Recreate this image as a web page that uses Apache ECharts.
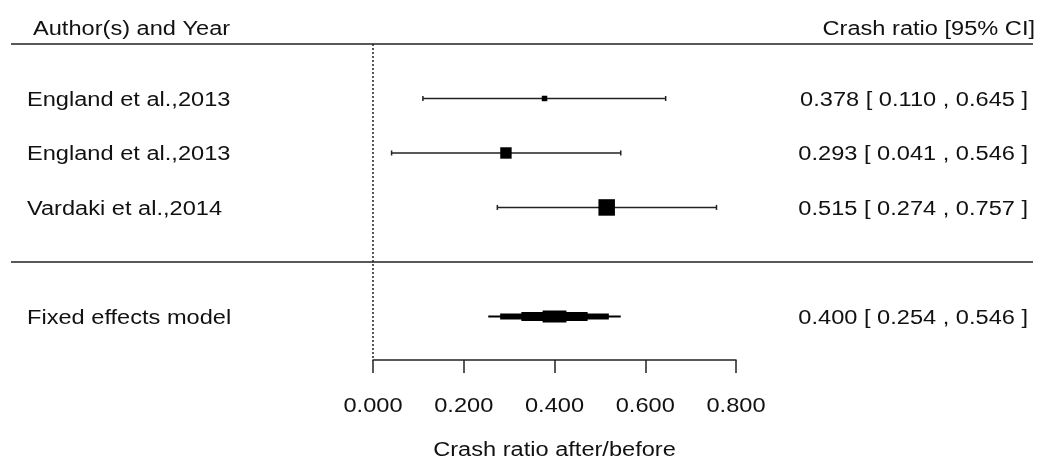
<!DOCTYPE html>
<html>
<head>
<meta charset="utf-8">
<script src="https://cdn.jsdelivr.net/npm/echarts@6/dist/echarts.min.js"></script>
<style>
  html, body { margin: 0; padding: 0; background: #fff; }
  #forest { width: 1043px; height: 461px; }
</style>
</head>
<body>
<div id="forest"></div>
<script>
// study rows
var studies = ['England et al.,2013', 'England et al.,2013', 'Vardaki et al.,2014'];
var estimates = [0.378, 0.293, 0.515];
var lowers = [0.110, 0.041, 0.274];
var uppers = [0.645, 0.546, 0.757];
var weights = [29.9, 33.5, 36.6]; // inverse variance weights, %

// pooled estimate
var modelName = 'Fixed effects model';
var modelEst = 0.400;
var modelLower = 0.254;
var modelUpper = 0.546;

var tickValues = [0, 0.2, 0.4, 0.6, 0.8];
var headerLeft = 'Author(s) and Year';
var headerRight = 'Crash ratio [95% CI]';
var axisTitle = 'Crash ratio after/before';

var FONT = '20px "Liberation Sans", Arial, sans-serif';
var INK = '#111';
var LINE = '#222';
var SX = 1.18; // the picture is a bit wide

function fmt(v) { return v.toFixed(3); }
function ciText(e, l, u) { return fmt(e) + ' [ ' + fmt(l) + ' , ' + fmt(u) + ' ]'; }
function txt(x, y, s, align) {
    return {
        type: 'text', x: x, y: y, scaleX: SX,
        style: { text: s, font: FONT, fill: INK, align: align || 'left', verticalAlign: 'middle' }
    };
}
function seg(x1, y1, x2, y2, w) {
    return { type: 'line', shape: { x1: x1, y1: y1, x2: x2, y2: y2 }, style: { stroke: LINE, lineWidth: w || 1.5 } };
}

var wMin = Math.min.apply(null, weights), wMax = Math.max.apply(null, weights);
var modelRow = studies.length + 2;
var sepRow = studies.length + 1;
var yMax = 5.8;

var studyData = studies.map(function (s, i) {
    return [estimates[i], lowers[i], uppers[i], i + 1, weights[i]];
});

var dom = document.getElementById('forest');
var myChart = echarts.init(dom);
var option = {
    animation: false,
    grid: { left: 373, right: 307, top: 44, height: 316 },
    xAxis: {
        type: 'value', min: 0, max: 0.8, interval: 0.2, position: 'bottom',
        axisLine: { onZero: false, lineStyle: { color: LINE, width: 1.5 } },
        axisTick: { length: 13, lineStyle: { color: LINE, width: 1.5 } },
        axisLabel: { show: false },
        splitLine: { show: false }
    },
    yAxis: { type: 'value', min: 0, max: yMax, inverse: true, show: false },
    series: [
        {
            // frame: header, rules, zero line
            type: 'custom', clip: false, data: [[0]],
            renderItem: function (params, api) {
                var top = api.coord([0, 0]);
                var bottom = api.coord([0, yMax]);
                var sepY = api.coord([0, sepRow])[1];
                var w = api.getWidth();
                return {
                    type: 'group', children: [
                        seg(11, top[1], w - 10, top[1]),
                        seg(11, sepY, w - 10, sepY),
                        { type: 'line', shape: { x1: top[0], y1: top[1], x2: bottom[0], y2: bottom[1] }, style: { stroke: LINE, lineWidth: 1.5, lineDash: [2, 2] } },
                        txt(33, top[1] - 15, headerLeft),
                        txt(w - 8, top[1] - 15, headerRight, 'right')
                    ]
                };
            }
        },
        {
            // individual studies
            type: 'custom', clip: false, data: studyData,
            renderItem: function (params, api) {
                var row = api.value(3);
                var c = api.coord([api.value(0), row]);
                var l = api.coord([api.value(1), row]);
                var u = api.coord([api.value(2), row]);
                var size = 11 * (0.5 + (api.value(4) - wMin) / (wMax - wMin));
                var i = params.dataIndex;
                return {
                    type: 'group', children: [
                        seg(l[0], c[1], u[0], c[1]),
                        seg(l[0], c[1] - 2.5, l[0], c[1] + 2.5),
                        seg(u[0], c[1] - 2.5, u[0], c[1] + 2.5),
                        { type: 'rect', shape: { x: c[0] - size / 2, y: c[1] - size / 2, width: size, height: size }, style: { fill: '#000' } },
                        txt(27, c[1] + 2, studies[i]),
                        txt(api.getWidth() - 15, c[1] + 2, ciText(estimates[i], lowers[i], uppers[i]), 'right')
                    ]
                };
            }
        },
        {
            // pooled diamond, stepped like the original
            type: 'custom', clip: false, data: [[modelEst, modelLower, modelUpper, modelRow]],
            renderItem: function (params, api) {
                var row = api.value(3);
                var c = api.coord([api.value(0), row]);
                var l = api.coord([api.value(1), row]);
                var u = api.coord([api.value(2), row]);
                var steps = [[0, 1], [0.18, 3], [0.5, 4.5], [0.82, 6]];
                var top = [], bot = [];
                steps.forEach(function (s, k) {
                    var x0 = l[0] + s[0] * (c[0] - l[0]);
                    var x1 = k < steps.length - 1 ? l[0] + steps[k + 1][0] * (c[0] - l[0]) : c[0];
                    top.push([x0, c[1] - s[1]], [x1, c[1] - s[1]]);
                });
                for (var k = steps.length - 1; k >= 0; k--) {
                    var s = steps[k];
                    var x0 = u[0] - s[0] * (u[0] - c[0]);
                    var x1 = k < steps.length - 1 ? u[0] - steps[k + 1][0] * (u[0] - c[0]) : c[0];
                    top.push([x1, c[1] - s[1]], [x0, c[1] - s[1]]);
                }
                var pts = top.concat(top.slice().reverse().map(function (p) { return [p[0], 2 * c[1] - p[1]]; }));
                return {
                    type: 'group', children: [
                        { type: 'polygon', shape: { points: pts }, style: { fill: '#000' } },
                        txt(27, c[1] + 2, modelName),
                        txt(api.getWidth() - 15, c[1] + 2, ciText(modelEst, modelLower, modelUpper), 'right')
                    ]
                };
            }
        },
        {
            // tick labels and axis title
            type: 'custom', clip: false, data: tickValues.map(function (v) { return [v]; }),
            renderItem: function (params, api) {
                var p = api.coord([api.value(0), yMax]);
                var kids = [txt(p[0], p[1] + 46, fmt(api.value(0)), 'center')];
                if (params.dataIndex === 0) {
                    var mid = api.coord([0.4, yMax]);
                    kids.push(txt(mid[0], mid[1] + 90, axisTitle, 'center'));
                }
                return { type: 'group', children: kids };
            }
        }
    ]
};
myChart.setOption(option, true);
window.onresize = myChart.resize;
</script>
</body>
</html>
